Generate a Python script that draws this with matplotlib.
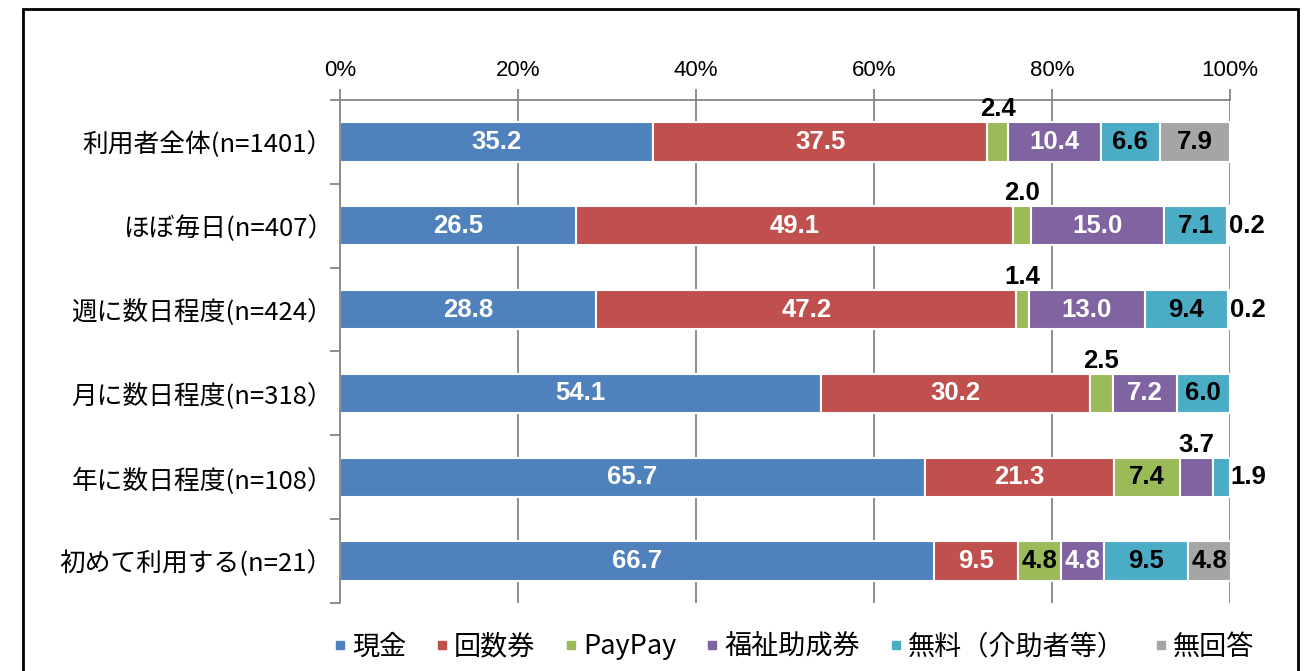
import matplotlib
matplotlib.use("Agg")
import matplotlib.pyplot as plt
import matplotlib.patches as mpatches
from matplotlib.lines import Line2D
from matplotlib import font_manager
import numpy as np

categories = ["利用者全体(n=1401）", "ほぼ毎日(n=407）", "週に数日程度(n=424）",
              "月に数日程度(n=318）", "年に数日程度(n=108）", "初めて利用する(n=21）"]
series_names = ["現金", "回数券", "PayPay", "福祉助成券", "無料（介助者等）", "無回答"]
cash     = [35.2, 26.5, 28.8, 54.1, 65.7, 66.7]
coupon   = [37.5, 49.1, 47.2, 30.2, 21.3, 9.5]
paypay   = [2.4, 2.0, 1.4, 2.5, 7.4, 4.8]
welfare  = [10.4, 15.0, 13.0, 7.2, 3.7, 4.8]
free     = [6.6, 7.1, 9.4, 6.0, 1.9, 9.5]
noanswer = [7.9, 0.2, 0.2, 0.0, 0.0, 4.8]
xticks = [0, 20, 40, 60, 80, 100]
xticklabels = ["0%", "20%", "40%", "60%", "80%", "100%"]

colors = ["#4F81BD", "#C0504D", "#9BBB59", "#8064A2", "#4BACC6", "#A5A5A5"]
text_colors = ["white", "white", "black", "white", "black", "black"]

installed = {f.name for f in font_manager.fontManager.ttflist}
CJK = ["Noto Sans CJK JP", "DejaVu Sans"]
if "Liberation Sans Narrow" in installed:
    NUM = ["Liberation Sans Narrow", "DejaVu Sans"]
    num_size, tick_size = 19.5, 17.5
else:
    NUM = ["Liberation Sans", "DejaVu Sans"]
    num_size, tick_size = 18.5, 16

W, H = 1309, 671
fig = plt.figure(figsize=(W / 100, H / 100), dpi=100)
ax = fig.add_axes([340 / W, 1 - 603 / H, (1230 - 340) / W, (603 - 100) / H])

data = np.array([cash, coupon, paypay, welfare, free, noanswer])
y = np.arange(len(categories))
bar_h = 0.47
left = np.zeros(len(categories))
for s in range(data.shape[0]):
    ax.barh(y, data[s], left=left, height=bar_h, color=colors[s],
            edgecolor="white", linewidth=1.5, label=series_names[s], zorder=2)
    left = left + data[s]

# labels
for i in range(len(categories)):
    row = data[:, i]
    nz = [s for s in range(len(row)) if row[s] > 0]
    last = nz[-1]
    cum = 0.0
    for s in range(len(row)):
        v = row[s]
        if v <= 0:
            continue
        txt = f"{v:.1f}"
        if s == last and v < 3:
            ax.text(cum + v, i, txt, ha="left", va="center", fontsize=num_size,
                    fontweight="bold", family=NUM, color="black", zorder=4)
        elif v < 4:
            ax.text(cum + v / 2, i - bar_h / 2 - 0.01, txt, ha="center", va="bottom",
                    fontsize=num_size, fontweight="bold", family=NUM, color="black", zorder=4)
        else:
            ax.text(cum + v / 2, i, txt, ha="center", va="center", fontsize=num_size,
                    fontweight="bold", family=NUM, color=text_colors[s], zorder=4)
        cum += v

ax.set_xlim(0, 100)
ax.set_ylim(len(categories) - 0.5, -0.5)
ax.xaxis.tick_top()
ax.set_xticks(xticks)
ax.set_xticklabels(xticklabels, family=NUM, fontsize=tick_size)
ax.tick_params(axis="x", direction="out", length=8, width=1.3, color="#868686", pad=6)
ax.set_yticks(y)
ax.set_yticklabels(categories, family=CJK, fontsize=18.5)
ax.set_yticks(np.arange(len(categories) + 1) - 0.5, minor=True)
ax.tick_params(axis="y", which="major", length=0, pad=5)
ax.tick_params(axis="y", which="minor", direction="out", length=7, width=1.3, color="#868686")
ax.xaxis.grid(True, color="#868686", linewidth=1.3, zorder=0)
ax.set_axisbelow(True)
for sp in ["right", "bottom"]:
    ax.spines[sp].set_visible(False)
for sp in ["top", "left"]:
    ax.spines[sp].set_color("#868686")
    ax.spines[sp].set_linewidth(1.3)

handles = [Line2D([0], [0], marker="s", linestyle="none", markersize=6,
                  markerfacecolor=c, markeredgecolor=c) for c in colors]
fig.legend(handles, series_names, loc="center left", ncol=6,
           bbox_to_anchor=(322 / W, 1 - 647 / H), frameon=False,
           prop={"family": CJK, "size": 19.5}, handlelength=0.5, handletextpad=0.2,
           columnspacing=1.07, borderaxespad=0)

border = mpatches.Rectangle((23 / W, -0.2), (1298 - 23) / W, 1 - 9 / H + 0.2,
                            transform=fig.transFigure, fill=False, edgecolor="black",
                            linewidth=2, clip_on=False)
fig.patches.append(border)

fig.savefig("out.png", dpi=100)
